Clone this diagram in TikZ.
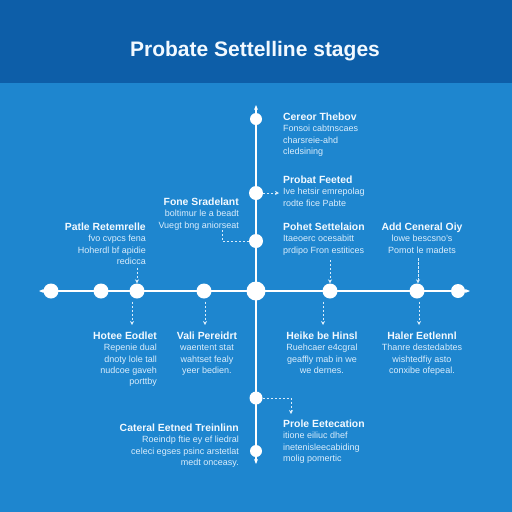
\documentclass[tikz,border=0pt]{standalone}
\usepackage{fontspec}
\setmainfont{Liberation Sans}
\usetikzlibrary{arrows.meta}
\definecolor{bandblue}{RGB}{13,94,168}
\definecolor{bgblue}{RGB}{30,134,207}
\definecolor{txtc}{RGB}{242,249,255}
\definecolor{subc}{RGB}{218,237,252}
\newcommand{\hd}[1]{{\fontsize{10.4}{12.5}\selectfont\bfseries\color{txtc}#1}}
\begin{document}
\begin{tikzpicture}[x=1pt,y=-1pt,
  dotnode/.style={circle,fill=white,draw=none,inner sep=0pt,minimum size=#1},
  dotnode/.default=14pt,
  axis/.style={draw=white,line width=2.4pt,{Stealth[length=5pt,width=4pt]}-{Stealth[length=5pt,width=4pt]}},
  block/.style={inner sep=0pt,text=subc,font=\fontsize{9}{11.2}\selectfont},
  dsh/.style={draw=subc,line width=1pt,dash pattern=on 2.2pt off 1.8pt},
  dsharr/.style={dsh,-{Stealth[length=4pt,width=4pt]}}
]
\fill[bgblue] (0,0) rectangle (512,512);
\fill[bandblue] (0,0) rectangle (512,83);
\useasboundingbox (0,0) rectangle (512,512);
\node[font=\fontsize{21}{25}\selectfont\bfseries,text=txtc] (title) at (255,51) {Probate Settelline stages};

% axes
\coordinate (hl) at (39,291);
\coordinate (hr) at (470,291);
\coordinate (vt) at (256,105);
\coordinate (vb) at (256,464);
\draw[axis] (hl) -- (hr);
\draw[axis] (vt) -- (vb);

% horizontal dots
\node[dotnode=15pt] (h1) at (51,291) {};
\node[dotnode=15pt] (h2) at (101,291) {};
\node[dotnode=15pt] (h3) at (137,291) {};
\node[dotnode=15pt] (h4) at (204,291) {};
\node[dotnode=19pt] (hc) at (256,291) {};
\node[dotnode=15pt] (h6) at (330,291) {};
\node[dotnode=15pt] (h7) at (417,291) {};
\node[dotnode=14pt] (h8) at (458,291) {};
% vertical dots
\node[dotnode=12pt] (v1) at (256,119) {};
\node[dotnode=14pt] (v2) at (256,193) {};
\node[dotnode=14pt] (v3) at (256,241) {};
\node[dotnode=13pt] (v5) at (256,398) {};
\node[dotnode=12pt] (v6) at (256,451) {};

% text blocks
\node[block,anchor=north west,align=left] (t1) at (283,113)
  {\hd{Cereor Thebov}\\Fonsoi cabtnscaes\\charsreie-ahd\\cledsining};
\node[block,anchor=north west,align=left] (t2) at (283,176)
  {\hd{Probat Feeted}\\Ive hetsir emrepolag\\rodte fice Pabte};
\node[block,anchor=north east,align=right] (t3) at (239,198)
  {\hd{Fone Sradelant}\\boltimur le a beadt\\Vuegt bng aniorseat};
\node[block,anchor=north east,align=right] (t4) at (146,223)
  {\hd{Patle Retemrelle}\\fvo cvpcs fena\\Hoherdl bf apidie\\redicca};
\node[block,anchor=north west,align=left] (t5) at (283,223)
  {\hd{Pohet Settelaion}\\Itaeoerc ocesabitt\\prdipo Fron estitices};
\node[block,anchor=north,align=center] (t6) at (422,223)
  {\hd{Add Ceneral Oiy}\\lowe bescsno's\\Pomot le madets};
\node[block,anchor=north east,align=right] (t7) at (157,332)
  {\hd{Hotee Eodlet}\\Repenie dual\\dnoty lole tall\\nudcoe gaveh\\porttby};
\node[block,anchor=north,align=center] (t8) at (207,332)
  {\hd{Vali Pereidrt}\\waentent stat\\wahtset fealy\\yeer bedien.};
\node[block,anchor=north,align=center] (t9) at (322,332)
  {\hd{Heike be Hinsl}\\Ruehcaer e4cgral\\geaffly mab in we\\we dernes.};
\node[block,anchor=north,align=center] (t10) at (422,332)
  {\hd{Haler Eetlennl}\\Thanre destedabtes\\wishtedfiy asto\\conxibe ofepeal.};
\node[block,anchor=north east,align=right] (t11) at (239,424)
  {\hd{Cateral Eetned Treinlinn}\\Roeindp ftie ey ef liedral\\celeci egses psinc arstetlat\\medt onceasy.};
\node[block,anchor=north west,align=left] (t12) at (283,420)
  {\hd{Prole Eetecation}\\itione eiliuc dhef\\inetenisleecabiding\\molig pomertic};

% dashed connectors
\draw[dsharr] (v2.east) -- ([xshift=-4pt]v2 -| t2.west);
\coordinate (e3) at (222,230);
\draw[dsh] (e3) |- (v3.west);
\draw[dsharr] (h3 |- t4.south) ++(0,3) -- (h3.north);
\draw[dsharr] (h6 |- t5.south) ++(0,5) -- (h6.north);
\draw[dsharr] ([xshift=1pt]h7 |- t6.south) ++(0,5) -- ([xshift=1pt]h7.north);
\draw[dsharr] ([xshift=-5pt]h3.south) ++(0,3) -- ([xshift=-5pt,yshift=7pt]h3 |- t7.north);
\draw[dsharr] ([xshift=1pt]h4.south) ++(0,3) -- ([xshift=1pt,yshift=7pt]h4 |- t8.north);
\draw[dsharr] ([xshift=-7pt]h6.south) ++(0,3) -- ([xshift=-7pt,yshift=7pt]h6 |- t9.north);
\draw[dsharr] ([xshift=2pt]h7.south) ++(0,3) -- ([xshift=2pt,yshift=7pt]h7 |- t10.north);
\coordinate (e12) at (291,398);
\draw[dsharr] (v5.east) -- (e12) -- ([yshift=6pt]e12 |- t12.north);
\end{tikzpicture}
\end{document}
